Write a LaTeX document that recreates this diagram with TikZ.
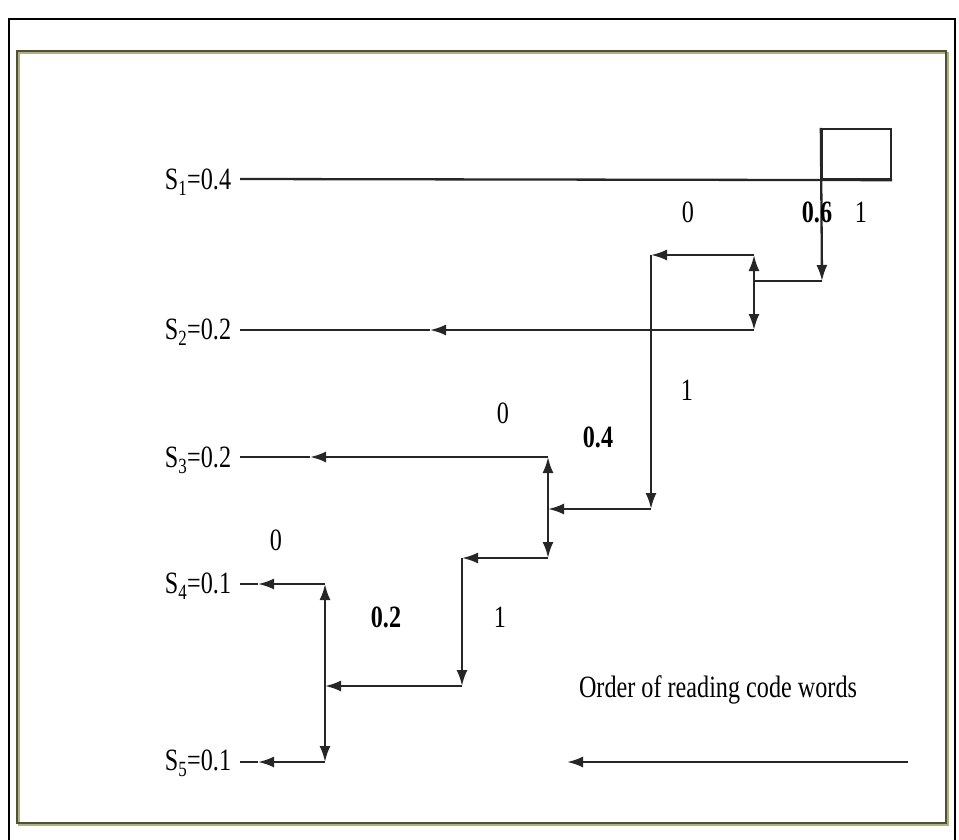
\documentclass[tikz,border=0pt]{standalone}
\usepackage{fontspec}
\setmainfont{Liberation Serif}
\usetikzlibrary{arrows.meta}
\usetikzlibrary{positioning}

\begin{document}
\begin{tikzpicture}[x=1pt,y=-1pt,line width=2.3pt,draw=black!85,
  >={Latex[length=16pt,width=11pt]},
  lbl/.style={font=\fontsize{31}{31}\selectfont,xscale=0.78,inner sep=0pt},
  wt/.style={lbl,font=\fontsize{31}{31}\selectfont\bfseries}]
\useasboundingbox (0,0) rectangle (959,839);
% frames
\draw[black,line width=2.5pt] (9,840) -- (9,19) -- (955,19) -- (955,840);
\draw[draw={rgb,255:red,176;green,176;blue,130},line width=1.5pt] (19,53) rectangle (948,825);
\draw[draw={rgb,255:red,80;green,80;blue,50},line width=1.5pt] (17,51) rectangle (946,823);
% symbols
\node[lbl,anchor=east] (s1) at (232,182) {S\textsubscript{1}=0.4};
\node[lbl,anchor=east] (s2) at (232,332) {S\textsubscript{2}=0.2};
\node[lbl,anchor=east] (s3) at (232,460) {S\textsubscript{3}=0.2};
\node[lbl,anchor=east] (s4) at (232,586) {S\textsubscript{4}=0.1};
\node[lbl,anchor=east] (s5) at (232,763) {S\textsubscript{5}=0.1};
\node[draw,minimum width=69pt,minimum height=50pt,inner sep=0pt] (box) at (856.5,154) {};
% junction points
\coordinate (a1) at (240,179);
\coordinate (p1) at (822,281);
\coordinate (q1) at (754,281);
\coordinate (q1u) at (754,255);
\coordinate (q1d) at (754,330);
\coordinate (r1) at (651,255);
\coordinate (m2) at (430,330);
\coordinate (a2) at (240,330);
\coordinate (p2) at (651,509);
\coordinate (q2) at (548,509);
\coordinate (q2u) at (548,457);
\coordinate (q2d) at (548,558);
\coordinate (m3) at (310,457);
\coordinate (a3) at (240,457);
\coordinate (p3) at (462,558);
\coordinate (p3d) at (462,686);
\coordinate (q3) at (325,686);
\coordinate (q3u) at (325,584);
\coordinate (q3d) at (325,762);
\coordinate (m4) at (258,584);
\coordinate (a4) at (240,584);
\coordinate (m5) at (258,762);
\coordinate (a5) at (240,762);
\coordinate (o1) at (908,762);
\coordinate (o2) at (567,762);
% tree
\draw (a1) -- (box.south east);
\draw[->] (box.north west) -- (p1);
\draw (p1) -- (q1);
\draw[->] (q1) -- (q1u);
\draw[->] (q1) -- (q1d);
\draw[->] (q1u) -- (r1);
\draw[->] (q1d) -- (m2);
\draw (m2) -- (a2);
\draw[->] (r1) -- (p2);
\draw[->] (p2) -- (q2);
\draw[->] (q2) -- (q2u);
\draw[->] (q2) -- (q2d);
\draw[->] (q2u) -- (m3);
\draw (m3) -- (a3);
\draw[->] (q2d) -- (p3);
\draw[->] (p3) -- (p3d);
\draw[->] (p3d) -- (q3);
\draw[->] (q3) -- (q3u);
\draw[->] (q3) -- (q3d);
\draw[->] (q3u) -- (m4);
\draw (m4) -- (a4);
\draw[->] (q3d) -- (m5);
\draw (m5) -- (a5);
\draw[->] (o1) -- (o2);
% bits and weights
\node[lbl] (b01) at (688,212) {0};
\node[wt] (w1) at (817,212) {0.6};
\node[lbl] (b11) at (861,212) {1};
\node[lbl] (b12) at (687,390) {1};
\node[lbl] (b02) at (503,413) {0};
\node[wt] (w2) at (598,437) {0.4};
\node[lbl] (b03) at (276,540) {0};
\node[wt] (w3) at (386,617) {0.2};
\node[lbl] (b13) at (500,617) {1};
\node[lbl] (order) at (718,690) {Order of reading code words};
\end{tikzpicture}
\end{document}
